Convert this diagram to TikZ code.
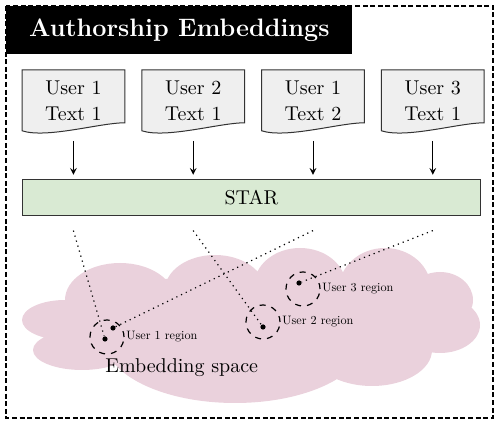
\documentclass[tikz,border=0pt]{standalone}
\usetikzlibrary{positioning,backgrounds}

\definecolor{docgray}{HTML}{EFEFEF}
\definecolor{stargreen}{HTML}{D9EAD3}
\definecolor{cloudpink}{HTML}{EAD1DC}
\definecolor{edge}{HTML}{333333}

\begin{document}
\begin{tikzpicture}[
  x=0.5pt, y=-0.5pt,
  frame/.style={draw, dash pattern=on 2.5pt off 1.3pt, line width=0.6pt},
  heading/.style={
    fill=black,
    text=white,
    anchor=north west,
    minimum width=173pt,
    minimum height=24pt,
    inner sep=0pt,
    font=\fontsize{12.6}{15}\selectfont\bfseries
  },
  doc/.style={
    align=center,
    minimum width=51pt,
    minimum height=30pt,
    inner sep=0pt,
    font=\fontsize{10}{13}\selectfont
  },
  model/.style={
    draw=edge,
    fill=stargreen,
    minimum width=229pt,
    minimum height=18pt,
    inner sep=0pt,
    font=\fontsize{10}{12}\selectfont
  },
  region/.style={circle, draw, dashed, line width=0.6pt, minimum size=17pt, inner sep=0pt},
  point/.style={circle, fill, inner sep=0pt, minimum size=2.6pt},
  tag/.style={anchor=west, inner sep=0.5pt, font=\fontsize{10}{12}\selectfont, scale=0.61, transform shape},
  line/.style={draw, -stealth, line width=0.5pt},
  ray/.style={draw, dotted, line width=0.6pt}
]
\useasboundingbox (0,0) rectangle (498,426);

% outer frame and title
\draw[frame] (6,6) rectangle (493,418);
\node[heading] (title) at (6,6) {Authorship Embeddings};

% input texts
\node[doc, anchor=north west] (d1) at (22,70) {User 1\\Text 1};
\node[doc, right=8.5pt of d1] (d2) {User 2\\Text 1};
\node[doc, right=8.5pt of d2] (d3) {User 1\\Text 2};
\node[doc, right=8.5pt of d3] (d4) {User 3\\Text 1};

\begin{scope}[on background layer]
\foreach \n in {d1,d2,d3,d4}
  \draw[draw=edge, fill=docgray, line width=0.5pt]
    (\n.south west) -- (\n.north west) -- (\n.north east) -- ([yshift=4pt]\n.south east)
    .. controls +(-12.5pt,0pt) and +(12.5pt,-4pt) .. (\n.south west) -- cycle;
\end{scope}

% encoder
\node[model, below=24pt of d1.south west, anchor=north west] (star) {STAR};

\foreach \i in {1,2,3,4}
  \draw[line, shorten <=5pt, shorten >=2pt] (d\i.south) -- (d\i.south |- star.north);

% embedding space (cloud)
\fill[cloudpink]
  (120,300) ellipse [x radius=27.5pt, y radius=18.5pt]
  (215,290) ellipse [x radius=25pt, y radius=17.5pt]
  (300,286) ellipse [x radius=23pt, y radius=19pt]
  (385,289) ellipse [x radius=23pt, y radius=20.5pt]
  (440,300) ellipse [x radius=16.5pt, y radius=14pt]
  (440,325) ellipse [x radius=20pt, y radius=14pt]
  (65,320) ellipse [x radius=21.5pt, y radius=10pt]
  (82,350) ellipse [x radius=24.5pt, y radius=10pt]
  (235,340) ellipse [x radius=65pt, y radius=31.5pt]
  (372,350) ellipse [x radius=30pt, y radius=18pt]
  (250,322) ellipse [x radius=95pt, y radius=24pt];
\node[anchor=west, inner sep=0pt, font=\fontsize{10}{12}\selectfont] (spacename) at (105,368) {Embedding space};

\foreach \i in {1,2,3,4}
  \coordinate (o\i) at ([yshift=-7.5pt]star.south -| d\i.south);

\node[point] (p1a) at (105,339) {};
\node[point] (p1b) at (113,328) {};
\node[point] (p2) at (263,327) {};
\node[point] (p3) at (299,283) {};

\draw[ray] (o1) -- (p1a);
\draw[ray] (o2) -- (p2);
\draw[ray] (o3) -- (p1b);
\draw[ray] (o4) -- (p3);

\node[region] (r1) at (107,337) {};
\node[region] (r2) at (263,322) {};
\node[region] (r3) at (303,289) {};

\node[tag, right=0.5pt of r1] (t1) {User 1 region};
\node[tag, right=0.5pt of r2] (t2) {User 2 region};
\node[tag, right=0.5pt of r3] (t3) {User 3 region};
\end{tikzpicture}
\end{document}
